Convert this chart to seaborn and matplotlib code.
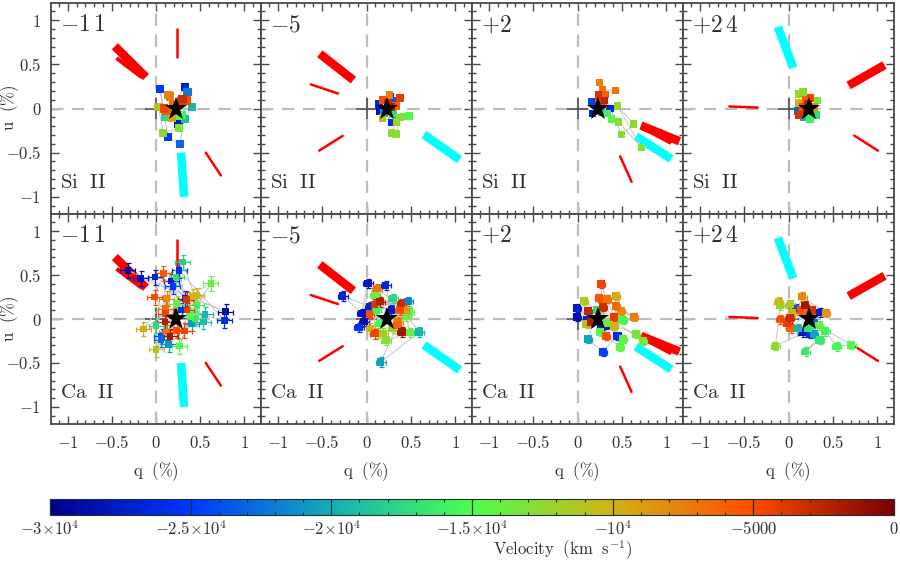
import matplotlib
matplotlib.use("Agg")
import matplotlib.pyplot as plt
import numpy as np
import pandas as pd
import seaborn as sns
from matplotlib.colors import LinearSegmentedColormap, Normalize
from matplotlib.cm import ScalarMappable
from matplotlib.ticker import MultipleLocator, FixedLocator

# ---- velocity-coloured points per panel -----------------------------------
si_m11_q = [.045,.33,.356,.41,.33,.254,.258,.083,.136,.273,.027,.10,.16,.14,.30,.29,.09,.12,.18,.29,.10,.35,.22,.20,.26]
si_m11_u = [.22,.242,.19,.015,-.12,-.175,-.22,-.28,-.322,-.40,.015,-.09,.136,.155,.106,.08,0,-.03,-.11,-.07,-.09,.09,-.06,.04,-.08]
si_m11_v = [-25000,-27000,-22000,-19500,-19000,-28000,-13500,-12500,-25000,-23000,-11000,-26000,-7500,-8000,-3000,-4000,-4500,-5500,-9500,-16000,-17500,-5000,-14000,-6500,-15000]

si_m5_q = [.477,.38,.28,.33,.26,.375,.18,.18,.28,.34,.42,.30,.32,.14,.24,.20,.27,.33,.15,.28]
si_m5_u = [-.085,-.10,-.275,-.29,.153,.12,.097,-.11,-.16,-.15,-.09,-.06,.09,.05,.07,-.05,.13,.03,-.03,.02]
si_m5_v = [-15000,-13000,-12500,-13000,-7500,-4000,-5000,-11000,-26000,-12500,-14000,-17000,-24000,-26500,-3000,-21000,-27000,-6000,-28000,-2000]

si_p2_q = [.246,.28,.424,.318,.242,.451,.159,.367,.17,.337,.383,.462,.636,.497,.72,.24,.30,.20,.27,.29]
si_p2_u = [.293,.218,.199,.161,.153,.028,.077,0,-.06,-.055,-.119,-.153,-.176,-.29,-.438,.10,.09,.03,-.05,.05]
si_p2_v = [-7500,-7000,-7000,-6000,-3500,-12500,-24500,-26500,-27000,-16000,-14500,-13000,-12500,-12500,-13000,-4000,-2500,-28000,-18000,-5000]

si_p24_q = [.163,.117,.117,.117,.105,.326,.193,.25,.17,.242,.307,.16,.29,.22,.27,.21]
si_p24_u = [.184,.161,.059,-.074,-.03,.089,.097,.119,-.10,-.119,-.074,.02,.02,.05,-.07,-.02]
si_p24_v = [-12500,-12000,-10000,-3500,-23000,-13500,-6000,-4500,-20000,-16000,-17000,-5000,-8000,-2500,-26000,-1500]

ca_m11_q = [-.32,-.174,-.011,.083,.303,.261,.227,.17,.19,.621,-.015,.12,.33,.348,.462,.424,.235,.79,.776,.557,.538,.462,.405,.443,.11,.11,.10,-.144,0,.322,.235,.16,.064,.057,.144,.265,0,.12,.35,.29,.39]
ca_m11_u = [.553,.462,.477,.519,.648,.553,.477,.432,.371,.405,.25,.231,.231,.22,.269,.258,.174,.083,-.015,.053,-.034,.155,-.053,.004,.117,.06,-.034,-.114,-.076,-.136,-.129,-.197,-.197,-.235,-.288,-.31,-.345,-.148,.10,.10,.04]
ca_m11_v = [-29000,-28000,-27000,-5500,-18000,-26000,-17000,-27000,-25000,-14000,-5000,-8000,-27000,-3500,-10500,-10000,-14000,-29000,-26000,-19500,-19000,-16000,-21000,-16500,-6500,-4500,-2000,-9500,-17500,-4500,-5000,-1500,-24000,-23000,-21000,-15000,-11000,-7000,-4000,-26000,-15000]

ca_m5_q = [-.269,.015,.216,.117,.098,.30,.47,.394,.155,.09,.034,-.053,-.03,-.087,.034,.48,.45,.356,.045,.095,.186,.223,.16,.398,.489,.595,.30,.148,.28,.11,.337,.375,.45,.13]
ca_m5_u = [.265,.405,.383,.345,.273,.235,.2,.178,.197,.167,.14,.064,-.03,-.095,.057,.083,.027,-.03,-.106,-.167,-.163,-.246,-.492,-.148,-.155,-.148,-.106,-.05,.10,.10,-.07,.10,.10,-.163]
ca_m5_v = [-27000,-28000,-26500,-7000,-14000,-17500,-22000,-3000,-2000,-3500,-27000,-28000,-28500,-26000,-5000,-15000,-14000,-7000,-10000,-4500,-11500,-13000,-20500,-1500,-14000,-19500,-12000,-15500,-27000,-16000,-6000,-5000,-9000,-13000]

ca_p2_q = [.261,.076,.246,.33,.436,.117,-.004,-.004,.102,.11,.15,.292,.432,.489,.64,.413,.508,.413,.337,.254,.117,.326,.451,.511,.481,.663,.735,.284,.22,.318,.26]
ca_p2_u = [.394,.205,.235,.223,.261,.095,.125,.027,-.057,-.011,-.03,.133,.148,.087,.019,.027,-.011,-.076,-.049,-.144,-.227,-.193,-.189,-.231,-.314,-.167,-.246,-.375,.10,-.068,-.087]
ca_p2_v = [-4500,-11500,-5500,-7000,-9500,-2500,-27500,-28500,-11000,-27000,-2000,-3000,-6500,-8000,-7500,-4000,-15500,-10000,-13500,-15000,-20500,-5000,-26000,-14000,-14500,-13500,-13000,-24500,-17000,-27000,-28000]

ca_p24_q = [-.11,-.091,.023,.155,.186,.42,.356,.08,.042,-.091,.015,-.015,.023,.106,.159,.223,.242,.288,.341,.413,.352,.545,.708,.193,-.148,.27,.212,.136,.288]
ca_p24_u = [.197,.152,.17,.254,.152,.068,.076,.12,.072,-.004,.008,-.05,-.106,-.11,-.155,-.106,-.17,-.17,-.076,-.14,-.239,-.311,-.295,-.371,-.307,.102,.065,.102,-.05]
ca_p24_v = [-10500,-12000,-11500,-8000,-1500,-8500,-27000,-24000,-10000,-5000,-3000,-4000,-6000,-19500,-28000,-17000,-26000,-20500,-14000,-16000,-16500,-15500,-15000,-16500,-12500,-3500,-6000,-5000,-23000]

# per-panel error bar half widths (%)
si_err = [.02, .02, .02, .02]
ca_err = [.085, .055, .045, .05]

# ---- polarisation-angle segments: q0, u0, q1, u1 ----------------------------
red_thick_m11 = [[-.466,.705,-.114,.356]]
red_thin2_m11 = [[-.447,.572,-.163,.356]]
red_thin_m11 = [[.235,.90,.235,.583],[.564,-.5,.735,-.758]]
cyan_m11 = [[.284,-.5,.318,-1.0]]

red_thick_m5 = [[-.527,.62,-.148,.322]]
red_thin2_m5 = []
red_thin_m5 = [[-.629,.273,-.322,.17],[-.534,-.477,-.269,-.31]]
cyan_m5 = [[.648,-.295,1.05,-.58]]

red_thick_p2 = [[.716,-.193,1.15,-.371]]
red_thin2_p2 = [[.73,-.215,1.057,-.39]]
red_thin_p2 = [[.481,-.542,.61,-.83]]
cyan_p2 = [[.659,-.314,1.057,-.572]]

red_thick_p24 = [[.678,.261,1.083,.492]]
red_thin2_p24 = []
red_thin_p24 = [[-.667,.023,-.348,.011],[.742,-.307,1.008,-.477]]
cyan_p24 = [[-.121,.924,.053,.462]]

epoch_labels = [r"$-1\,1$", r"$-5$", r"$+2$", r"$+2\,4$"]
ion_labels = [r"$\mathrm{Si}\ \ \mathrm{II}$", r"$\mathrm{Ca}\ \ \mathrm{II}$"]
axis_ticks = [-1, -.5, 0, .5, 1]
axis_ticklabels = [r"$-1$", r"$-0.5$", r"$0$", r"$0.5$", r"$1$"]
cbar_ticks = [-30000, -25000, -20000, -15000, -10000, -5000, 0]
cbar_ticklabels = [r"$-3{\times}10^4$", r"$-2.5{\times}10^4$", r"$-2{\times}10^4$",
                   r"$-1.5{\times}10^4$", r"$-10^4$", r"$-5000$", r"$0$"]
star_q, star_u = 0.23, 0.0

# ---- style ------------------------------------------------------------------
sns.set_theme(style="ticks")
plt.rcParams["mathtext.fontset"] = "cm"
plt.rcParams["font.family"] = ["DejaVu Serif"]
TXT = "#303030"
EDGE = "#484848"

cmap = LinearSegmentedColormap.from_list("vel", [
    (0.0, (0.0, 0.0, 0.55)), (0.1667, (0.0, 0.22, 1.0)), (0.3333, (0.08, 0.68, 0.72)),
    (0.5, (0.30, 1.0, 0.30)), (0.6667, (0.82, 0.70, 0.08)), (0.8333, (1.0, 0.30, 0.0)),
    (1.0, (0.48, 0.0, 0.0))])
norm = Normalize(-30000, 0)

W, H = 900, 562
fig = plt.figure(figsize=(W/100, H/100), dpi=100)
lefts = [51, 261, 472, 683]
widths = [210, 211, 211, 211]
tops = [3, 214]
ph = [211, 210]

si = [(si_m11_q, si_m11_u, si_m11_v), (si_m5_q, si_m5_u, si_m5_v), (si_p2_q, si_p2_u, si_p2_v), (si_p24_q, si_p24_u, si_p24_v)]
ca = [(ca_m11_q, ca_m11_u, ca_m11_v), (ca_m5_q, ca_m5_u, ca_m5_v), (ca_p2_q, ca_p2_u, ca_p2_v), (ca_p24_q, ca_p24_u, ca_p24_v)]
segs = [(red_thick_m11, red_thin2_m11, red_thin_m11, cyan_m11),
        (red_thick_m5, red_thin2_m5, red_thin_m5, cyan_m5),
        (red_thick_p2, red_thin2_p2, red_thin_p2, cyan_p2),
        (red_thick_p24, red_thin2_p24, red_thin_p24, cyan_p24)]
ca_size = [22, 30, 34, 30]
si_size = [36, 30, 26, 30]

for r, (rows, errs, sizes) in enumerate([(si, si_err, si_size), (ca, ca_err, ca_size)]):
    for c in range(4):
        ax = fig.add_axes([lefts[c]/W, 1-(tops[r]+ph[r])/H, widths[c]/W, ph[r]/H])
        df = pd.DataFrame({"q": rows[c][0], "u": rows[c][1], "v": rows[c][2]}).sort_values("v", kind="stable")
        # guide lines and origin cross
        ax.plot([-1.19, 1.19], [0, 0], color="#bdbdbd", lw=1.6, dashes=(5.6, 3.8), zorder=1)
        ax.plot([0, 0], [-1.195, 1.195], color="#bdbdbd", lw=1.6, dashes=(5.6, 3.8), zorder=1)
        ax.errorbar([0], [0], xerr=[.12], yerr=[.12], color="#505050", lw=1.2, zorder=1.5)
        thick, thin2, thin, cyan = segs[c]
        for s in cyan:
            ax.plot([s[0], s[2]], [s[1], s[3]], color="#00ffff", lw=6.2, solid_capstyle="butt", zorder=2)
        for s in thick:
            ax.plot([s[0], s[2]], [s[1], s[3]], color="red", lw=6.2, solid_capstyle="butt", zorder=2)
        for s in thin2:
            ax.plot([s[0], s[2]], [s[1], s[3]], color="red", lw=3.0, solid_capstyle="butt", zorder=2)
        for s in thin:
            ax.plot([s[0], s[2]], [s[1], s[3]], color="red", lw=1.8, solid_capstyle="round", zorder=2)
        # connecting line in velocity order
        ax.plot(df["q"], df["u"], color="#c4c4c4", lw=0.7, zorder=3)
        for qi, ui, vi in zip(df["q"], df["u"], df["v"]):
            ax.errorbar([qi], [ui], xerr=[errs[c]], yerr=[errs[c]], fmt="none", ecolor=cmap(norm(vi)),
                        elinewidth=0.9, capsize=1.8 if r == 1 else 0, capthick=0.9, zorder=3.2)
        sns.scatterplot(data=df, x="q", y="u", hue="v", palette=cmap, hue_norm=norm, marker="s",
                        s=sizes[c], linewidth=0, legend=False, ax=ax, zorder=3.5)
        ax.plot([star_q], [star_u], marker="*", color="black", ms=17, mew=0, zorder=5, ls="none")

        ax.set_xlim(-1.19, 1.19)
        ax.set_ylim(-1.195, 1.195)
        ax.set_xlabel("")
        ax.set_ylabel("")
        ax.xaxis.set_major_locator(FixedLocator(axis_ticks))
        ax.yaxis.set_major_locator(FixedLocator(axis_ticks))
        ax.xaxis.set_minor_locator(MultipleLocator(.1))
        ax.yaxis.set_minor_locator(MultipleLocator(.1))
        ax.tick_params(which="both", direction="in", top=True, right=True, color=EDGE, width=1.0)
        ax.tick_params(which="major", length=6)
        ax.tick_params(which="minor", length=3)
        for sp in ax.spines.values():
            sp.set_color(EDGE)
            sp.set_linewidth(1.3)
        ax.set_xticklabels(axis_ticklabels if r == 1 else [])
        ax.set_yticklabels(axis_ticklabels if c == 0 else [])
        ax.tick_params(axis="both", which="major", labelsize=12, labelcolor=TXT)
        ax.tick_params(axis="x", pad=8)
        ax.tick_params(axis="y", pad=7)
        ax.text(-1.09, 0.95, epoch_labels[c], fontsize=17, color=TXT, va="center", ha="left", zorder=6)
        ax.text(-1.09, -0.84, ion_labels[r], fontsize=15, color=TXT, va="center", ha="left", zorder=6)
        if r == 1:
            fig.text((lefts[c]+105)/W, 1-472/H, r"$\mathrm{q}\ \ (\%)$", fontsize=12, color=TXT, ha="center", va="center")
        if c == 0:
            fig.text(10/W, 1-(tops[r]+105)/H, r"$\mathrm{u}\ \ (\%)$", fontsize=12, color=TXT, ha="center", va="center", rotation=90)

cax = fig.add_axes([50/W, 1-515/H, 844/W, 16/H])
cb = fig.colorbar(ScalarMappable(norm=norm, cmap=cmap), cax=cax, orientation="horizontal")
cb.set_ticks(cbar_ticks)
cb.set_ticklabels(cbar_ticklabels)
cax.set_axisbelow(False)
cax.xaxis.set_minor_locator(MultipleLocator(1000))
cax.tick_params(which="major", direction="in", length=11.5, width=0.9, color="#203030", top=False,
                labelsize=12, labelcolor=TXT, pad=4)
cax.tick_params(which="minor", direction="in", length=2.5, width=0.8, color="#203030", top=True)
cb.outline.set_linewidth(0.8)
cb.outline.set_edgecolor("#203030")
fig.text(562/W, 1-550.5/H, r"$\mathrm{Velocity}\ \ (\mathrm{km}\ \ \mathrm{s}^{-1})$", fontsize=12, color=TXT, ha="center", va="center")

fig.savefig("out.png", dpi=100)
